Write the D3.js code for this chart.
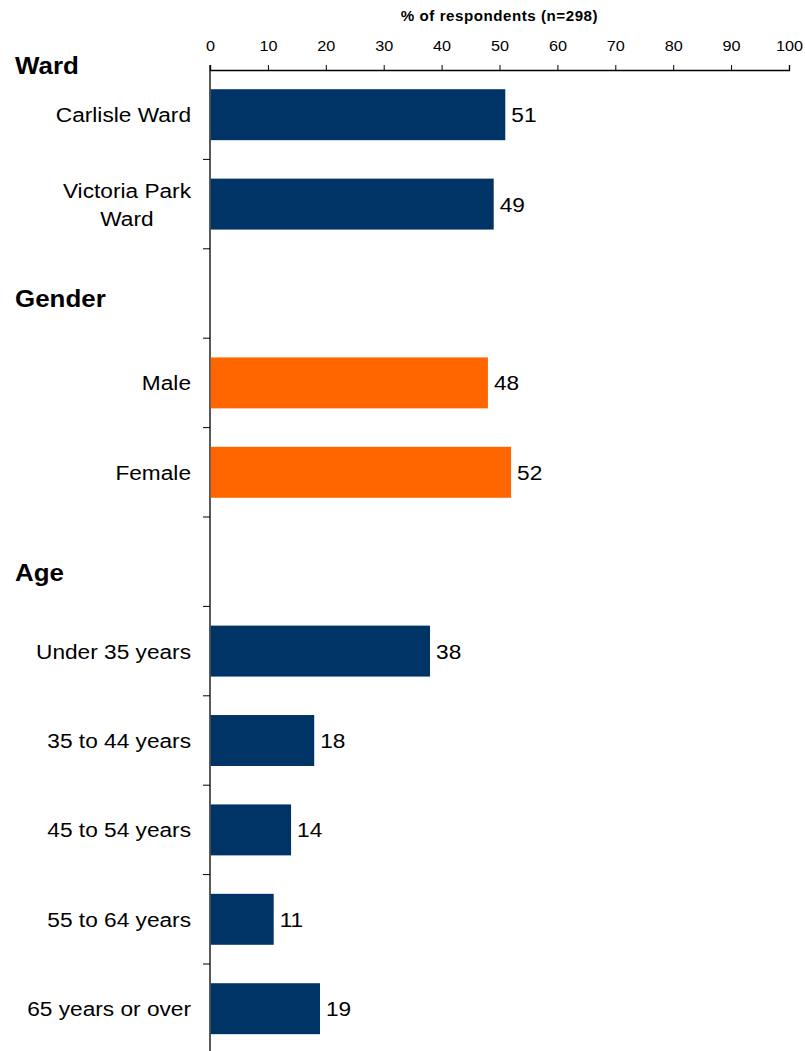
<!DOCTYPE html>
<html>
<head>
<meta charset="utf-8">
<script src="https://cdn.jsdelivr.net/npm/d3@7"></script>
<style>
  html, body { margin: 0; padding: 0; background: #fff; }
  svg { display: block; font-family: "Liberation Sans", Arial, sans-serif; }
</style>
</head>
<body>
<svg id="chart" width="805" height="1051"></svg>
<script>
// Rows from top to bottom; empty strings are spacer rows that carry a group heading
const categories = [
  "Carlisle Ward", "Victoria Park Ward", "",
  "Male", "Female", "",
  "Under 35 years", "35 to 44 years", "45 to 54 years", "55 to 64 years", "65 years or over"
];
const values = [51, 49, null, 48, 52, null, 38, 18, 14, 11, 19];
const groups = ["ward", "ward", null, "gender", "gender", null, "age", "age", "age", "age", "age"];
const headings = ["Ward", "Gender", "Age"];
const xTicks = [0, 10, 20, 30, 40, 50, 60, 70, 80, 90, 100];
const axisTitle = "% of respondents (n=298)";

(function () {
  const colours = { ward: "#003366", gender: "#FF6600", age: "#003366" };
  const stretch = 1.08; // text is set slightly wide

  const svg = d3.select("#chart");
  const plotLeft = 210, plotRight = 789, plotTop = 70, rowH = 89.4;
  const plotBottom = plotTop + rowH * categories.length;

  // place a text element at (x, y) with the horizontal widening applied
  function placeText(sel, x, y) {
    return sel.attr("x", 0).attr("y", 0)
      .attr("transform", `translate(${x},${y}) scale(${stretch},1)`);
  }

  const rowIds = categories.map((c, i) => i);
  const x = d3.scaleLinear().domain([0, 100]).range([plotLeft, plotRight]);
  const y = d3.scaleBand().domain(rowIds).range([plotTop, plotBottom])
    .paddingInner(0.43).paddingOuter(0.215);

  // top axis
  const xAxis = d3.axisTop(x).tickValues(xTicks).tickSize(5).tickSizeOuter(5).tickPadding(14);
  const gx = svg.append("g").attr("transform", `translate(0,${plotTop})`).call(xAxis);
  gx.select(".domain").attr("stroke", "#000").attr("stroke-width", 1.3);
  gx.selectAll(".tick line").attr("stroke", "#000");
  gx.selectAll(".tick text")
    .attr("font-size", 15).attr("fill", "#000")
    .attr("font-family", "'Liberation Sans', Arial, sans-serif")
    .attr("dy", null)
    .each(function () {
      placeText(d3.select(this), 0, -19.5);
    });

  placeText(svg.append("text"), (plotLeft + plotRight) / 2, 21)
    .attr("text-anchor", "middle").attr("font-size", 14).attr("font-weight", "bold")
    .attr("letter-spacing", 0.5)
    .text(axisTitle);

  // vertical axis with ticks at row boundaries
  svg.append("line")
    .attr("x1", plotLeft).attr("x2", plotLeft).attr("y1", plotTop - 5).attr("y2", plotBottom)
    .attr("stroke", "#000").attr("stroke-width", 1.3);
  const boundaries = d3.range(1, categories.length).map(i => plotTop + rowH * i);
  svg.selectAll(".ytick").data(boundaries).join("line")
    .attr("x1", plotLeft - 7).attr("x2", plotLeft).attr("y1", d => d).attr("y2", d => d)
    .attr("stroke", "#000").attr("stroke-width", 1);

  // bars
  const rows = rowIds.filter(i => values[i] !== null);
  svg.selectAll(".bar").data(rows).join("rect")
    .attr("x", x(0) + 0.7)
    .attr("y", i => y(i))
    .attr("width", i => x(values[i]) - x(0) - 0.7)
    .attr("height", y.bandwidth())
    .attr("fill", i => colours[groups[i]]);

  // value labels
  rows.forEach(i => {
    placeText(svg.append("text"), x(values[i]) + 6, y(i) + y.bandwidth() / 2)
      .attr("dy", "0.36em").attr("font-size", 21).text(values[i]);
  });

  // category labels (wrapped onto two lines when long)
  const labelRight = 191;
  rows.forEach(i => {
    const name = categories[i];
    const cy = y(i) + y.bandwidth() / 2;
    if (name === "Victoria Park Ward") {
      const lines = ["Victoria Park", "Ward"];
      const t1 = placeText(svg.append("text"), labelRight, cy - 14)
        .attr("dy", "0.36em").attr("text-anchor", "end").attr("font-size", 21).text(lines[0]);
      const w = t1.node().getComputedTextLength() * stretch;
      placeText(svg.append("text"), labelRight - w / 2, cy + 14)
        .attr("dy", "0.36em").attr("text-anchor", "middle").attr("font-size", 21).text(lines[1]);
    } else {
      placeText(svg.append("text"), labelRight, cy)
        .attr("dy", "0.36em").attr("text-anchor", "end").attr("font-size", 21).text(name);
    }
  });

  // group headings
  const headingBaseline = [74, 307, 581];
  headings.forEach((h, k) => {
    placeText(svg.append("text"), 15, headingBaseline[k])
      .attr("font-size", 24).attr("font-weight", "bold").text(h);
  });
})();
</script>
</body>
</html>
